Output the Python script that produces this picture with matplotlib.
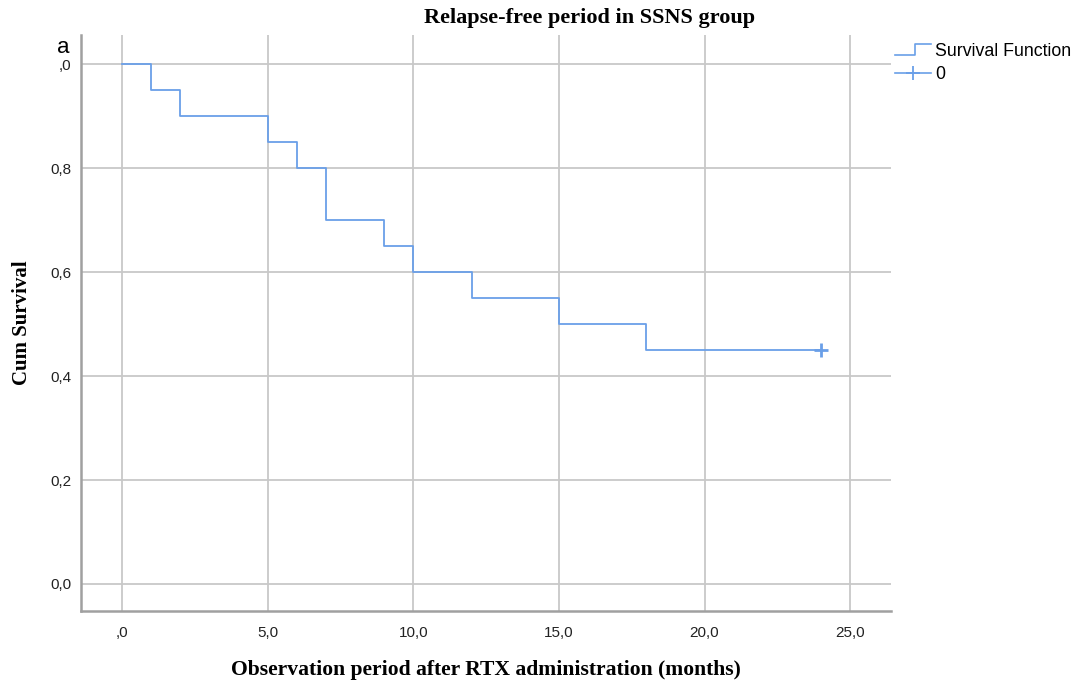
"""
Kaplan-Meier curve: relapse-free period in SSNS group
"""

import matplotlib
matplotlib.use('Agg')
import matplotlib.pyplot as plt
from matplotlib.lines import Line2D
from matplotlib.legend_handler import HandlerBase

# ------------------------------------------------------------
# DATA
# ------------------------------------------------------------
event_times = [0, 1, 2, 5, 6, 7, 9, 10, 12, 15, 18]
survival = [1.00, 0.95, 0.90, 0.85, 0.80, 0.70, 0.65, 0.60, 0.55, 0.50, 0.45]
censor_times = [24]
censor_surv = [0.45]

x_ticks = [0, 5, 10, 15, 20, 25]
x_labels = [',0', '5,0', '10,0', '15,0', '20,0', '25,0']
y_ticks = [0.0, 0.2, 0.4, 0.6, 0.8, 1.0]
y_labels = ['0,0', '0,2', '0,4', '0,6', '0,8', ',0']

LINE_COLOR = '#6a9fe8'
GRID_COLOR = '#c8c8c8'
SPINE_COLOR = '#a0a0a0'


class StepHandler(HandlerBase):
    # little step glyph like the SPSS legend
    def create_artists(self, legend, orig_handle, xdescent, ydescent,
                       width, height, fontsize, trans):
        xs = [0, width * 0.55, width * 0.55, width]
        ys = [0.1 * height, 0.1 * height, 0.95 * height, 0.95 * height]
        ln = Line2D(xs, ys, color=LINE_COLOR, lw=1.2, transform=trans)
        return [ln]


fig = plt.figure(figsize=(10.75, 6.84), dpi=100)
ax = fig.add_axes([0.0753, 0.1067, 0.7535, 0.842])

# survival curve (post steps, extended to last censor time)
xs = event_times + [censor_times[-1]]
ys = survival + [survival[-1]]
ax.step(xs, ys, where='post', color=LINE_COLOR, lw=1.3, zorder=3)
ax.plot(censor_times, censor_surv, marker='+', ms=10, mew=2.0,
        color=LINE_COLOR, ls='none', zorder=4)

ax.set_xlim(-1.41, 26.4)
ax.set_ylim(-0.052, 1.056)
ax.set_xticks(x_ticks)
ax.set_xticklabels(x_labels)
ax.set_yticks(y_ticks)
ax.set_yticklabels(y_labels)
for lab in ax.get_xticklabels() + ax.get_yticklabels():
    lab.set_fontfamily('Liberation Sans')
    lab.set_fontsize(11)
    lab.set_color('#222222')
ax.tick_params(axis='x', length=0, pad=11)
ax.tick_params(axis='y', length=0, pad=7)

ax.grid(True, color=GRID_COLOR, lw=1.3)
ax.set_axisbelow(True)
for side in ['top', 'right']:
    ax.spines[side].set_visible(False)
for side in ['left', 'bottom']:
    ax.spines[side].set_color(SPINE_COLOR)
    ax.spines[side].set_linewidth(1.8)

ax.set_xlabel('Observation period after RTX administration (months)',
              fontfamily='Liberation Serif', fontweight='bold', fontsize=15.6, labelpad=14)
ax.set_ylabel('Cum Survival', fontfamily='Liberation Serif', fontweight='bold',
              fontsize=15, labelpad=13)
fig.text(0.548, 0.973, 'Relapse-free period in SSNS group', ha='center', va='center',
         fontfamily='Liberation Serif', fontweight='bold', fontsize=16)

fig.text(0.053, 0.922, 'a', fontsize=16, fontfamily='Liberation Sans', color='black')

h_step = Line2D([], [], color=LINE_COLOR)
h_cens = Line2D([], [], color=LINE_COLOR, marker='+', ms=10, mew=1.3, lw=1.2)
leg = fig.legend([h_step, h_cens], ['Survival Function', '0'],
                 handler_map={h_step: StepHandler()},
                 loc='upper left', bbox_to_anchor=(0.8326, 0.937),
                 frameon=False, borderpad=0, borderaxespad=0,
                 handlelength=2.0, handletextpad=0.25,
                 labelspacing=0.35,
                 prop={'family': 'Liberation Sans', 'size': 12.8})

fig.savefig('out.png', dpi=100, facecolor='white')
